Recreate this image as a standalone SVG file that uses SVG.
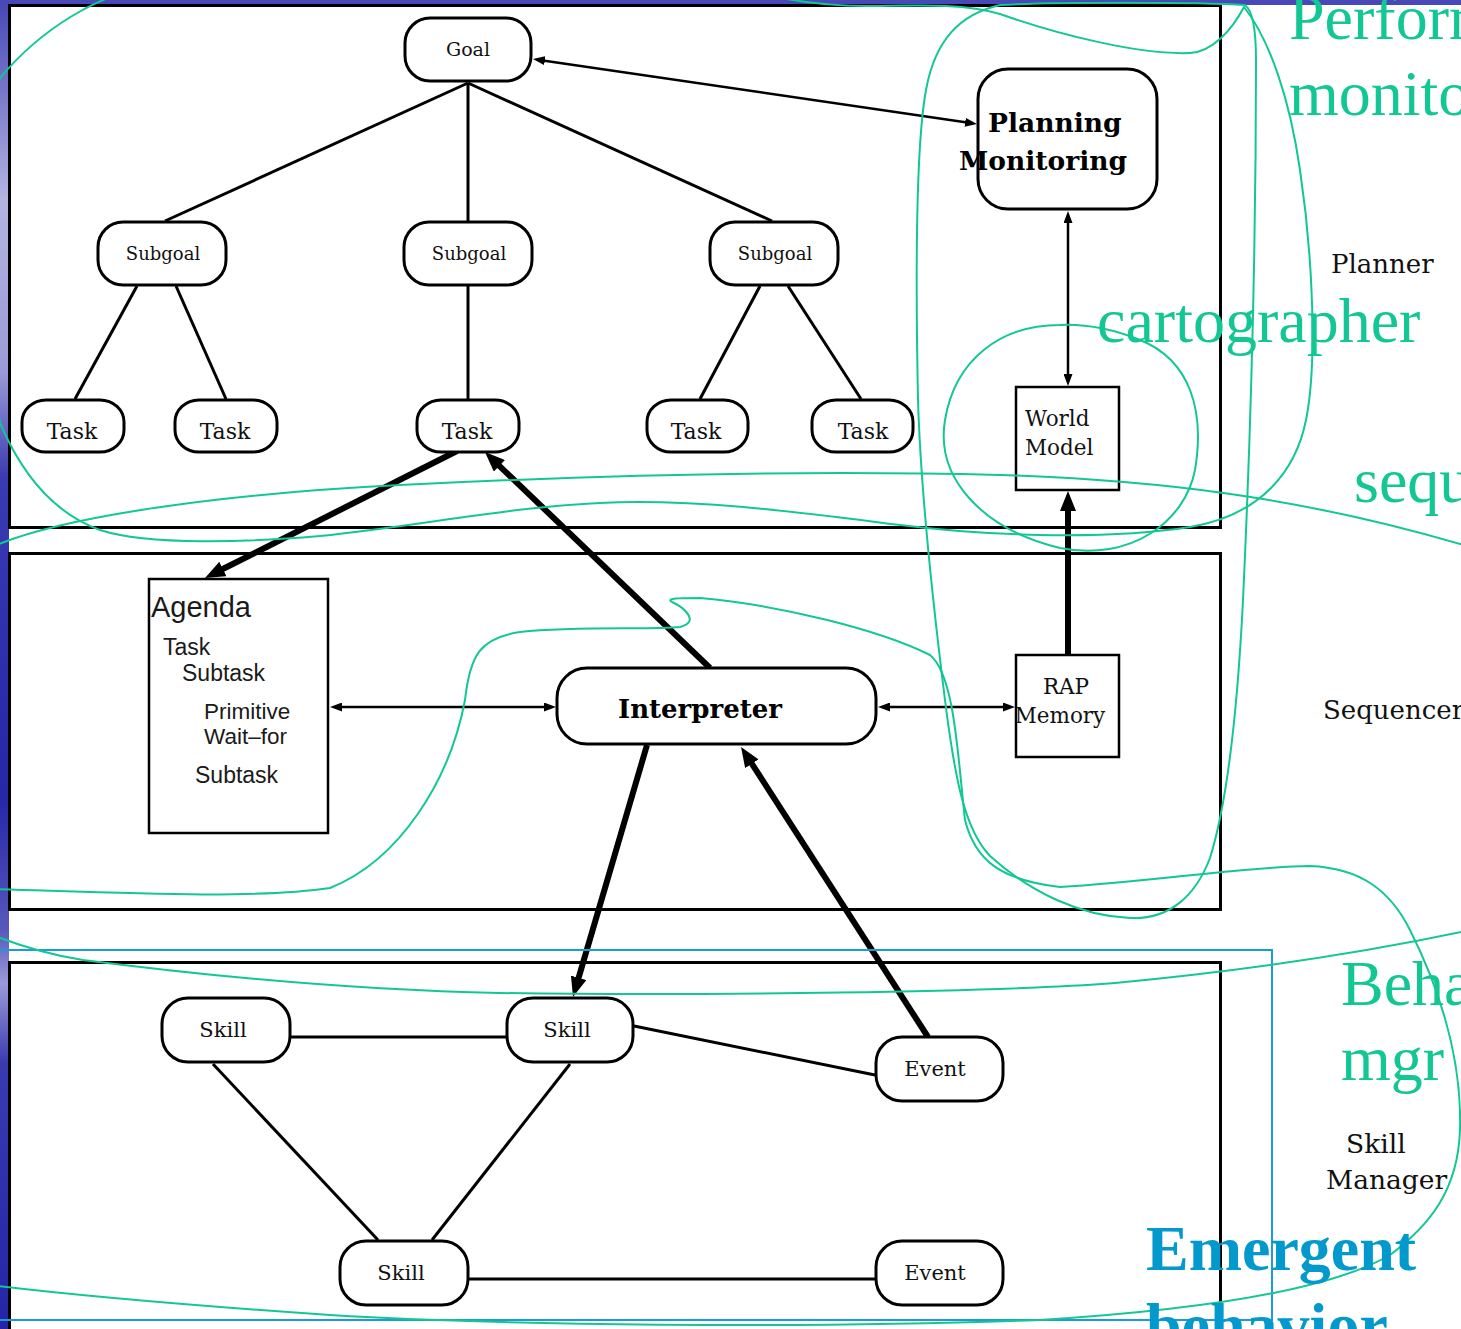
<svg xmlns="http://www.w3.org/2000/svg" width="1461" height="1329" viewBox="0 0 1461 1329">
  <defs>
    <linearGradient id="strip" x1="0" y1="0" x2="0" y2="1">
      <stop offset="0" stop-color="#4646b6"/>
      <stop offset="0.05" stop-color="#6a6ac4"/>
      <stop offset="0.15" stop-color="#b4b4e2"/>
      <stop offset="0.28" stop-color="#9a9ad6"/>
      <stop offset="0.36" stop-color="#3a3ab2"/>
      <stop offset="0.6" stop-color="#2626a8"/>
      <stop offset="0.7" stop-color="#5858bc"/>
      <stop offset="0.74" stop-color="#9a9ad8"/>
      <stop offset="0.8" stop-color="#3a3ab0"/>
      <stop offset="1" stop-color="#2424a8"/>
    </linearGradient>
    <marker id="ah" viewBox="0 0 12 9" refX="2" refY="4.5" markerWidth="12" markerHeight="9" markerUnits="userSpaceOnUse" orient="auto-start-reverse">
      <path d="M0,0 L12,4.5 L0,9 z" fill="#000"/>
    </marker>
    <marker id="ahb" viewBox="0 0 20 16" refX="4" refY="8" markerWidth="20" markerHeight="16" markerUnits="userSpaceOnUse" orient="auto">
      <path d="M0,0 L20,8 L0,16 z" fill="#000"/>
    </marker>
  </defs>
  <style>
    .panel { fill: #fff; stroke: #000; stroke-width: 3; }
    .node { fill: #fff; stroke: #000; stroke-width: 3; }
    .box { fill: #fff; stroke: #000; stroke-width: 2.5; }
    .lbl { font-family: "DejaVu Serif", "Liberation Serif", serif; fill: #111; }
    .bold { font-family: "DejaVu Serif", "Liberation Serif", serif; font-weight: bold; fill: #000; }
    .sans { font-family: "Liberation Sans", Arial, sans-serif; fill: #1a1a1a; }
    .tree { stroke: #000; stroke-width: 3; fill: none; }
    .thin { stroke: #000; stroke-width: 2.5; fill: none; }
    .thick { stroke: #000; stroke-width: 6; fill: none; }
    .ink { stroke: #13c795; stroke-width: 2; fill: none; }
    .note { font-family: "Liberation Serif", "Times New Roman", serif; fill: #13c795; font-size: 64px; }
    .emph { font-family: "Liberation Serif", "Times New Roman", serif; fill: #0399cd; font-size: 64px; font-weight: bold; }
  </style>

  <!-- slide background -->
  <rect x="0" y="0" width="1461" height="1329" fill="#fff"/>
  <rect x="0" y="0" width="9" height="1329" fill="url(#strip)"/>
  <rect x="0" y="0" width="1461" height="5" fill="#4848b8"/>

  <!-- three layers -->
  <g id="layers">
    <rect class="panel" x="9.5" y="5.5" width="1211" height="522"/>
    <rect class="panel" x="9.5" y="553.5" width="1211" height="356"/>
    <rect class="panel" x="9.5" y="962.5" width="1211" height="390"/>
  </g>

  <!-- connectors -->
  <g id="connectors">
    <line class="tree" x1="468" y1="83" x2="165" y2="221"/>
    <line class="tree" x1="468" y1="83" x2="468" y2="221"/>
    <line class="tree" x1="468" y1="83" x2="772" y2="221"/>
    <line class="tree" x1="137" y1="286" x2="75" y2="399"/>
    <line class="tree" x1="176" y1="286" x2="226" y2="399"/>
    <line class="tree" x1="468" y1="286" x2="468" y2="399"/>
    <line class="tree" x1="760" y1="286" x2="700" y2="399"/>
    <line class="tree" x1="788" y1="286" x2="861" y2="399"/>

    <line class="thin" x1="542.9" y1="60.4" x2="967.1" y2="122.6" marker-start="url(#ah)" marker-end="url(#ah)"/>
    <line class="thin" x1="1068" y1="221" x2="1068" y2="376" marker-start="url(#ah)" marker-end="url(#ah)"/>
    <line class="thin" x1="340" y1="707" x2="546" y2="707" marker-start="url(#ah)" marker-end="url(#ah)"/>
    <line class="thin" x1="888" y1="707" x2="1005" y2="707" marker-start="url(#ah)" marker-end="url(#ah)"/>

    <line class="thick" x1="457" y1="451" x2="219.3" y2="570.8" marker-end="url(#ahb)"/>
    <line class="thick" x1="710" y1="668" x2="496.5" y2="463.1" marker-end="url(#ahb)"/>
    <line class="thick" x1="647" y1="745" x2="577.5" y2="981.6" marker-end="url(#ahb)"/>
    <line class="thick" x1="928" y1="1037" x2="749.7" y2="760.4" marker-end="url(#ahb)"/>
    <line class="thick" x1="1068" y1="654" x2="1068" y2="507" marker-end="url(#ahb)"/>

    <line class="tree" x1="291" y1="1037" x2="506" y2="1037"/>
    <line class="tree" x1="634" y1="1026" x2="875" y2="1075"/>
    <line class="tree" x1="213" y1="1064" x2="378" y2="1240"/>
    <line class="tree" x1="570" y1="1064" x2="432" y2="1240"/>
    <line class="tree" x1="469" y1="1279" x2="875" y2="1279"/>
  </g>

  <!-- planner layer -->
  <g id="goal">
    <rect class="node" x="405" y="18" width="126" height="63" rx="25"/>
    <text class="lbl" x="468" y="56" font-size="19" text-anchor="middle">Goal</text>
  </g>
  <g id="subgoal-1">
    <rect class="node" x="98" y="222" width="128" height="63" rx="25"/>
    <text class="lbl" x="163" y="260" font-size="18" text-anchor="middle">Subgoal</text>
  </g>
  <g id="subgoal-2">
    <rect class="node" x="404" y="222" width="128" height="63" rx="25"/>
    <text class="lbl" x="469" y="260" font-size="18" text-anchor="middle">Subgoal</text>
  </g>
  <g id="subgoal-3">
    <rect class="node" x="710" y="222" width="128" height="63" rx="25"/>
    <text class="lbl" x="775" y="260" font-size="18" text-anchor="middle">Subgoal</text>
  </g>
  <g id="task-1">
    <rect class="node" x="22" y="400" width="102" height="52" rx="24" ry="22"/>
    <text class="lbl" x="72" y="439" font-size="22" text-anchor="middle">Task</text>
  </g>
  <g id="task-2">
    <rect class="node" x="175" y="400" width="102" height="52" rx="24" ry="22"/>
    <text class="lbl" x="225" y="439" font-size="22" text-anchor="middle">Task</text>
  </g>
  <g id="task-3">
    <rect class="node" x="417" y="400" width="102" height="52" rx="24" ry="22"/>
    <text class="lbl" x="467" y="439" font-size="22" text-anchor="middle">Task</text>
  </g>
  <g id="task-4">
    <rect class="node" x="647" y="400" width="101" height="52" rx="24" ry="22"/>
    <text class="lbl" x="696" y="439" font-size="22" text-anchor="middle">Task</text>
  </g>
  <g id="task-5">
    <rect class="node" x="812" y="400" width="101" height="52" rx="24" ry="22"/>
    <text class="lbl" x="863" y="439" font-size="22" text-anchor="middle">Task</text>
  </g>
  <g id="planning-monitoring">
    <rect class="node" x="978" y="69" width="179" height="140" rx="30"/>
    <text class="bold" x="988" y="132" font-size="26.5">Planning</text>
    <text class="bold" x="959" y="170" font-size="26.5">Monitoring</text>
  </g>
  <g id="world-model">
    <rect class="box" x="1016" y="387" width="103" height="103"/>
    <text class="lbl" x="1025" y="426" font-size="21.5">World</text>
    <text class="lbl" x="1025" y="455" font-size="21.5">Model</text>
  </g>

  <!-- sequencer layer -->
  <g id="agenda">
    <rect class="box" x="149" y="579" width="179" height="254"/>
    <text class="sans" x="151" y="617" font-size="29">Agenda</text>
    <text class="sans" x="163" y="655" font-size="23">Task</text>
    <text class="sans" x="182" y="681" font-size="23">Subtask</text>
    <text class="sans" x="204" y="719" font-size="22.5">Primitive</text>
    <text class="sans" x="204" y="744" font-size="22.5">Wait–for</text>
    <text class="sans" x="195" y="783" font-size="23">Subtask</text>
  </g>
  <g id="interpreter">
    <rect class="node" x="557" y="668" width="319" height="76" rx="30"/>
    <text class="bold" x="700" y="718" font-size="26" text-anchor="middle">Interpreter</text>
  </g>
  <g id="rap-memory">
    <rect class="box" x="1016" y="655" width="103" height="102"/>
    <text class="lbl" x="1066" y="694" font-size="21.5" text-anchor="middle">RAP</text>
    <text class="lbl" x="1060" y="723" font-size="21.5" text-anchor="middle">Memory</text>
  </g>

  <!-- skill manager layer -->
  <g id="skill-1">
    <rect class="node" x="162" y="998" width="128" height="64" rx="26"/>
    <text class="lbl" x="223" y="1037" font-size="21" text-anchor="middle">Skill</text>
  </g>
  <g id="skill-2">
    <rect class="node" x="507" y="998" width="126" height="64" rx="26"/>
    <text class="lbl" x="567" y="1037" font-size="21" text-anchor="middle">Skill</text>
  </g>
  <g id="event-1">
    <rect class="node" x="876" y="1037" width="127" height="64" rx="26"/>
    <text class="lbl" x="935" y="1076" font-size="21" text-anchor="middle">Event</text>
  </g>
  <g id="skill-3">
    <rect class="node" x="340" y="1241" width="128" height="64" rx="26"/>
    <text class="lbl" x="401" y="1280" font-size="21" text-anchor="middle">Skill</text>
  </g>
  <g id="event-2">
    <rect class="node" x="876" y="1241" width="127" height="64" rx="26"/>
    <text class="lbl" x="935" y="1280" font-size="21" text-anchor="middle">Event</text>
  </g>

  <!-- layer names -->
  <g id="layer-names">
    <text class="lbl" x="1331" y="273" font-size="26">Planner</text>
    <text class="lbl" x="1323" y="719" font-size="26">Sequencer</text>
    <text class="lbl" x="1346" y="1153" font-size="26.5">Skill</text>
    <text class="lbl" x="1326" y="1189" font-size="26.5">Manager</text>
  </g>

  <!-- hand-drawn annotation loops -->
  <g id="annotations">
    <rect x="-5" y="950" width="1277" height="370" fill="none" stroke="#1b9bd7" stroke-width="2"/>
    <path class="ink" d="M1244,7 C1232,30 1212,52 1190,53 C1140,55 1060,35 1000,14 C 960,2 905,6 865,6 C 825,6 790,0 770,-4 L 150,-12 C 100,-8 40,30 0,78 L -30,200 L 0,423 C 20,470 50,512 100,530 C 150,546 250,542 320,536 C 420,526 500,508 600,503 C 700,498 820,515 900,525 C 980,535 1100,541 1190,527 C 1262,515 1296,470 1306,420 C 1318,360 1312,250 1300,170 C 1290,100 1270,40 1244,7 Z"/>
    <path class="ink" d="M1000,5 C 960,14 935,40 926,90 C 915,150 916,300 918,400 C 921,500 935,620 945,700 C 955,780 965,830 990,856 C 1030,892 1080,916 1130,918 C 1170,920 1196,895 1210,858 C 1228,800 1238,700 1243,600 C 1250,450 1256,250 1256,60 C 1256,25 1252,10 1245,5 C 1200,2 1050,2 1000,5 Z"/>
    <path class="ink" d="M1060,325 C 1000,325 955,360 945,420 C 935,480 985,530 1060,548 C 1130,562 1185,522 1195,470 C 1205,410 1190,360 1140,340 C 1110,328 1085,324 1060,325 Z"/>
    <path class="ink" d="M-10,548 C 50,520 200,495 400,485 C 600,475 800,470 1000,475 C 1150,480 1300,495 1480,550 L 1520,600 L 1520,900 L 1480,928 C 1380,950 1250,970 1115,983 C 1000,992 700,996 500,993 C 350,990 200,975 83,960 C 50,955 20,946 -10,934"/>
    <path class="ink" d="M-10,889 C 100,892 250,900 330,888 C 400,860 450,780 465,700 C 470,655 480,638 520,632 C 580,626 650,630 680,627 C 700,622 685,608 672,602 C 665,598 680,598 700,598 C 780,605 880,630 930,655 C 955,675 958,760 965,820 C 975,860 1000,880 1060,887 C 1150,882 1250,866 1310,866 C 1360,868 1390,890 1410,930 C 1440,990 1462,1060 1460,1130 C 1458,1190 1430,1225 1390,1255 C 1330,1290 1200,1310 1040,1320 C 800,1329 500,1325 330,1315 C 200,1306 80,1296 -10,1285"/>
  </g>

  <!-- annotation words -->
  <g id="notes">
    <text class="note" x="1289" y="39">Perform</text>
    <text class="note" x="1289" y="115">monitor</text>
    <text class="note" x="1097" y="342">cartographer</text>
    <text class="note" x="1354" y="502">sequencer</text>
    <text class="note" x="1341" y="1005">Behavior</text>
    <text class="note" x="1341" y="1080">mgr</text>
    <text class="emph" x="1146" y="1270">Emergent</text>
    <text class="emph" x="1146" y="1347">behavior</text>
  </g>
</svg>
